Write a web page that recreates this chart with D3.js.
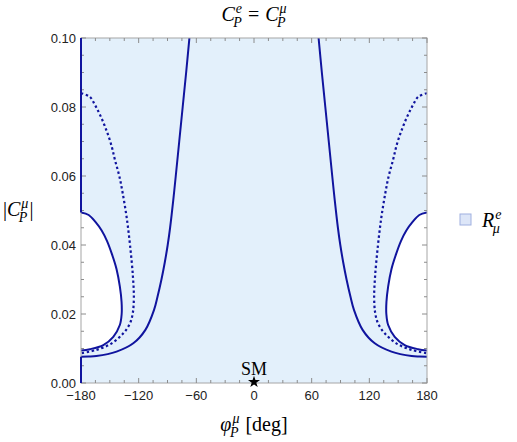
<!DOCTYPE html>
<html>
<head>
<meta charset="utf-8">
<script src="https://cdn.jsdelivr.net/npm/d3@7"></script>
<style>
  body { margin: 0; background: #fff; }
  svg { display: block; }
</style>
</head>
<body>
<svg id="chart"></svg>
<script>
// 数据：等高线 (phi 度, |C_P^mu|)
const xTicks = [-180, -120, -60, 0, 60, 120, 180];
const yTicks = [0, 0.02, 0.04, 0.06, 0.08, 0.10];

const outerLeft = [[-180,0.0076],[-172,0.00765],[-164,0.0078],[-143,0.0091],[-125.6,0.0115],[-113,0.0154],[-104,0.0212],[-100.4,0.025],[-96.3,0.030],[-92.8,0.035],[-89.8,0.040],[-87.3,0.045],[-84.0,0.053],[-81.4,0.060],[-77.8,0.070],[-74.2,0.080],[-70.6,0.090],[-67.2,0.100]];
const outerRight = [[180,0.0076],[172,0.00765],[164,0.0078],[143,0.0091],[125.6,0.0115],[113,0.0154],[104,0.0212],[100.4,0.025],[96.3,0.030],[92.8,0.035],[89.8,0.040],[87.3,0.045],[84.0,0.053],[81.4,0.060],[77.8,0.070],[74.2,0.080],[70.6,0.090],[67.2,0.100]];

const innerLeft = [[-180,0.0494],[-172,0.0487],[-165,0.0467],[-158.5,0.0442],[-153,0.0412],[-148,0.0375],[-143,0.033],[-139.6,0.028],[-137.8,0.0235],[-137.7,0.020],[-139.6,0.0168],[-146.4,0.0134],[-156.8,0.011],[-170.7,0.0098],[-180,0.0094]];
const innerRight = [[180,0.0494],[172,0.0487],[165,0.0467],[158.5,0.0442],[153,0.0412],[148,0.0375],[143,0.033],[139.6,0.028],[137.8,0.0235],[137.7,0.020],[139.6,0.0168],[146.4,0.0134],[156.8,0.011],[170.7,0.0098],[180,0.0094]];

const dottedLeft = [[-180,0.0840],[-171,0.0830],[-165.5,0.0806],[-161,0.0782],[-155,0.0743],[-149,0.0695],[-144.6,0.0646],[-140,0.0598],[-136.6,0.055],[-132.5,0.048],[-129,0.040],[-126,0.031],[-125,0.025],[-126,0.0205],[-129,0.0173],[-136,0.0144],[-148,0.0115],[-164,0.0096],[-180,0.0086]];
const dottedRight = [[180,0.0840],[171,0.0830],[165.5,0.0806],[161,0.0782],[155,0.0743],[149,0.0695],[144.6,0.0646],[140,0.0598],[136.6,0.055],[132.5,0.048],[129,0.040],[126,0.031],[125,0.025],[126,0.0205],[129,0.0173],[136,0.0144],[148,0.0115],[164,0.0096],[180,0.0086]];

// 左边界上区域的边线
const edgeTop = [[-180,0.0494],[-180,0.100]];
const edgeBottom = [[-180,0],[-180,0.0076]];
const smPoint = [0, 0];

const W = 517, H = 442;
const margin = { top: 38, right: 90, bottom: 59, left: 81 };
const width = W - margin.left - margin.right;
const height = H - margin.top - margin.bottom;

const navy = "#10149e";
const fillBlue = "#e3f0fb";
const serif = "'Liberation Serif', 'DejaVu Serif', serif";
const sans = "'Liberation Sans', Arial, sans-serif";

const svg = d3.select("#chart").attr("width", W).attr("height", H);
const g = svg.append("g").attr("transform", `translate(${margin.left},${margin.top})`);

const x = d3.scaleLinear().domain([-180, 180]).range([0, width]);
const y = d3.scaleLinear().domain([0, 0.1]).range([height, 0]);

g.append("clipPath").attr("id", "clip")
  .append("rect").attr("width", width).attr("height", height);

const plot = g.append("g").attr("clip-path", "url(#clip)");

plot.append("rect").attr("width", width).attr("height", height).attr("fill", fillBlue);

const line = d3.line()
  .x(d => x(d[0]))
  .y(d => y(d[1]))
  .curve(d3.curveCatmullRom.alpha(0.5));
const straight = d3.line().x(d => x(d[0])).y(d => y(d[1]));

// 白色区域（内环之内）
[innerLeft, innerRight].forEach(arr => {
  plot.append("path").attr("d", line(arr) + "Z").attr("fill", "#fff");
});

// 框和刻度
g.append("rect").attr("width", width).attr("height", height)
  .attr("fill", "none").attr("stroke", "#a6a6a6").attr("stroke-width", 1);

const xMinor = d3.range(-180, 181, 15);
const yMinor = d3.range(0, 0.1001, 0.005);
const tickCol = "#8c8c8c";

xMinor.forEach(v => {
  const major = xTicks.includes(v);
  const len = major ? 5 : 3;
  g.append("line").attr("x1", x(v)).attr("x2", x(v)).attr("y1", height).attr("y2", height - len)
    .attr("stroke", tickCol);
  g.append("line").attr("x1", x(v)).attr("x2", x(v)).attr("y1", 0).attr("y2", len)
    .attr("stroke", tickCol);
});
yMinor.forEach((v, i) => {
  const major = i % 4 === 0;
  const len = major ? 5 : 3;
  g.append("line").attr("x1", 0).attr("x2", len).attr("y1", y(v)).attr("y2", y(v))
    .attr("stroke", tickCol);
  g.append("line").attr("x1", width).attr("x2", width - len).attr("y1", y(v)).attr("y2", y(v))
    .attr("stroke", tickCol);
});

g.selectAll(".xlab").data(xTicks).enter().append("text")
  .attr("x", d => x(d)).attr("y", height + 17)
  .attr("text-anchor", "middle")
  .style("font-family", sans).style("font-size", "13px").attr("fill", "#222")
  .text(d => d < 0 ? "\u2212" + Math.abs(d) : d);

g.selectAll(".ylab").data(yTicks).enter().append("text")
  .attr("x", -5).attr("y", d => y(d) + 4.5)
  .attr("text-anchor", "end")
  .style("font-family", sans).style("font-size", "13px").attr("fill", "#222")
  .text(d => d3.format(".2f")(d));

// 曲线
[outerLeft, outerRight, innerLeft, innerRight].forEach(arr => {
  plot.append("path").attr("d", line(arr))
    .attr("fill", "none").attr("stroke", navy).attr("stroke-width", 2);
});
[dottedLeft, dottedRight].forEach(arr => {
  plot.append("path").attr("d", line(arr))
    .attr("fill", "none").attr("stroke", navy).attr("stroke-width", 2.2)
    .attr("stroke-dasharray", "2.4,2.6");
});
[edgeTop, edgeBottom].forEach(arr => {
  g.append("path").attr("d", straight(arr))
    .attr("fill", "none").attr("stroke", navy).attr("stroke-width", 2);
});

// SM 点
g.append("path")
  .attr("d", d3.symbol().type(d3.symbolStar).size(45)())
  .attr("transform", `translate(${x(smPoint[0])},${y(smPoint[1]) - 1})`)
  .attr("fill", "#000");
g.append("text").attr("x", x(smPoint[0])).attr("y", y(smPoint[1]) - 8)
  .attr("text-anchor", "middle")
  .style("font-family", serif).style("font-size", "18px").text("SM");

// 数学文字：base + 上标 + 下标
function mathText(parent, cx, cy, parts, anchor) {
  const grp = parent.append("g");
  let cur = 0;
  parts.forEach(p => {
    const t = grp.append("text").attr("x", cur).attr("y", 0)
      .style("font-family", serif).style("font-size", (p.size || 20) + "px")
      .style("font-style", p.italic ? "italic" : "normal")
      .text(p.text);
    const w = t.node().getComputedTextLength();
    cur += w;
    let extra = 0;
    if (p.sup) {
      const s = grp.append("text").attr("x", cur + 1).attr("y", -8)
        .style("font-family", serif).style("font-size", "14px").style("font-style", "italic")
        .text(p.sup);
      extra = Math.max(extra, s.node().getComputedTextLength() + 1);
    }
    if (p.sub) {
      const s = grp.append("text").attr("x", cur - 1.5).attr("y", 5.5)
        .style("font-family", serif).style("font-size", "14px").style("font-style", "italic")
        .text(p.sub);
      extra = Math.max(extra, s.node().getComputedTextLength() - 1.5);
    }
    cur += extra + (p.gap || 0);
  });
  const off = anchor === "middle" ? cur / 2 : 0;
  grp.attr("transform", `translate(${cx - off},${cy})`);
  return grp;
}

mathText(svg, margin.left + width / 2, 21, [
  { text: "C", italic: true, sup: "e", sub: "P", gap: 6 },
  { text: "=", gap: 6 },
  { text: "C", italic: true, sup: "\u03bc", sub: "P" }
], "middle");

mathText(svg, margin.left + width / 2, 431, [
  { text: "\u03c6", italic: true, sup: "\u03bc", sub: "P", gap: 6 },
  { text: "[deg]" }
], "middle");

mathText(svg, 3, 216, [
  { text: "|" },
  { text: "C", italic: true, sup: "\u03bc", sub: "P", gap: 1 },
  { text: "|" }
], "start");

// 图例
svg.append("rect").attr("x", 460).attr("y", 214).attr("width", 11).attr("height", 11)
  .attr("fill", "#dde6f8").attr("stroke", "#9fb0e0").attr("stroke-width", 1);
mathText(svg, 482, 227, [
  { text: "R", italic: true, sup: "e", sub: "\u03bc" }
], "start");
</script>
</body>
</html>
